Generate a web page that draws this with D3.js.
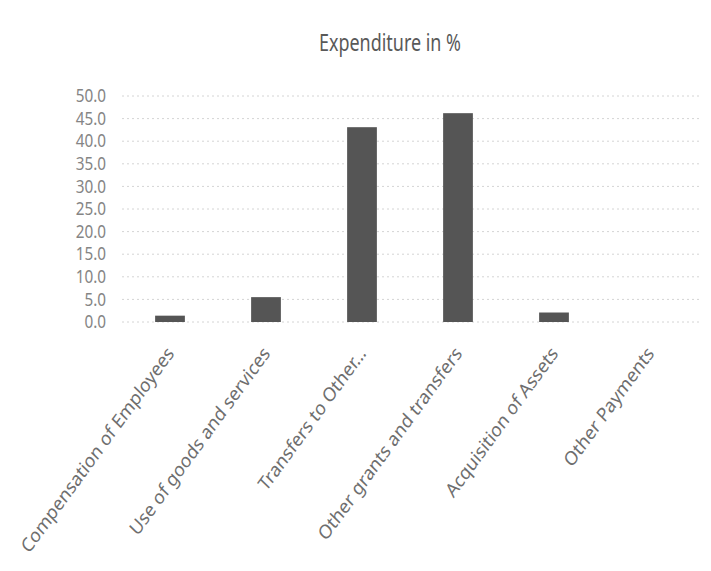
<!DOCTYPE html>
<html>
<head>
<meta charset="utf-8">
<script src="https://cdn.jsdelivr.net/npm/d3@7"></script>
<style>
  body { margin: 0; background: #fff; }
  text { font-family: "Noto Sans", sans-serif; }
  .tick text { fill: #858585; }
  .title { fill: #595959; }
  .xlab { fill: #6e6e6e; }
</style>
</head>
<body>
<div id="main"></div>
<script>
var categories = ["Compensation of Employees", "Use of goods and services", "Transfers to Other...",
    "Other grants and transfers", "Acquisition of Assets", "Other Payments"];
var values = [1.4, 5.5, 43.1, 46.2, 2.1, 0.0];
var yTicks = [0, 5, 10, 15, 20, 25, 30, 35, 40, 45, 50];

var ctx = { w: 711, h: 571 };

var createViz = function() {
    var svg = d3.select("#main").append("svg")
        .attr("width", ctx.w).attr("height", ctx.h);

    ctx.xScale = d3.scaleBand().domain(categories).range([122, 698]).paddingInner(0.69).paddingOuter(0.345);
    ctx.yScale = d3.scaleLinear().domain([0, 50]).range([322, 96]);

    // title (narrowed to look like Calibri)
    svg.append("text").attr("class", "title")
        .attr("transform", "translate(390,51) scale(0.78,1)")
        .attr("text-anchor", "middle")
        .style("font-size", "23px")
        .text("Expenditure in %");

    // gridlines
    svg.append("g").selectAll("line").data(yTicks).enter().append("line")
        .attr("x1", 122).attr("x2", 700)
        .attr("y1", d => ctx.yScale(d)).attr("y2", d => ctx.yScale(d))
        .attr("stroke", "#d4d4d4").attr("stroke-dasharray", "2,3");

    // y axis
    var yAxis = svg.append("g")
        .attr("transform", "translate(106,0)")
        .call(d3.axisLeft(ctx.yScale).tickValues(yTicks).tickFormat(d3.format(".1f")).tickSize(0).tickPadding(0));
    yAxis.select(".domain").remove();
    yAxis.selectAll("text").style("font-size", "18px").attr("transform", "scale(0.85,1)");

    // bars
    svg.append("g").selectAll("rect").data(values).enter().append("rect")
        .attr("x", (d, i) => ctx.xScale(categories[i]))
        .attr("width", ctx.xScale.bandwidth())
        .attr("y", d => ctx.yScale(d))
        .attr("height", d => ctx.yScale(0) - ctx.yScale(d))
        .attr("fill", "#555555");

    // x labels, rotated and a bit stretched like the scan
    svg.append("g").selectAll("text").data(categories).enter().append("text")
        .attr("class", "xlab")
        .attr("text-anchor", "end")
        .attr("transform", d => `translate(${ctx.xScale(d) + ctx.xScale.bandwidth() / 2 + 5},354) scale(1,1.15) rotate(-50)`)
        .style("font-size", "17px")
        .text(d => d);
};

createViz();
</script>
</body>
</html>
